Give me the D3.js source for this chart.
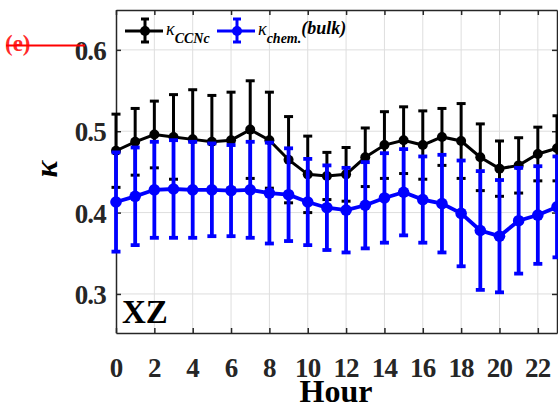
<!DOCTYPE html>
<html lang="en">
<head>
<meta charset="UTF-8">
<title>Kappa diurnal XZ</title>
<script src="https://d3js.org/d3.v7.min.js"></script>
<style>
    body { margin: 0; background: #fff; }
    svg { display: block; }
    text { font-family: "Liberation Serif", "Times New Roman", serif; }
    .tick-label { font-size: 27px; font-weight: bold; fill: #262626; letter-spacing: -0.8px; }
</style>
</head>
<body>
<svg id="chart" width="558" height="403"></svg>
<script>
    const hours = d3.range(0, 24);
    // kappa from CCNc (mean and std)
    const kCCNc    = [0.476, 0.487, 0.496, 0.493, 0.490, 0.487, 0.489, 0.502, 0.489, 0.465, 0.447, 0.445,
                      0.447, 0.468, 0.483, 0.489, 0.483, 0.493, 0.488, 0.468, 0.454, 0.458, 0.472, 0.479];
    const kCCNcErr = [0.045, 0.041, 0.041, 0.052, 0.061, 0.057, 0.059, 0.060, 0.059, 0.053, 0.047, 0.029,
                      0.033, 0.036, 0.041, 0.041, 0.042, 0.035, 0.046, 0.041, 0.034, 0.034, 0.033, 0.040];
    // kappa from bulk chemistry
    const kChem    = [0.413, 0.420, 0.428, 0.429, 0.428, 0.428, 0.427, 0.428, 0.424, 0.422, 0.413, 0.406,
                      0.403, 0.409, 0.418, 0.425, 0.416, 0.411, 0.399, 0.378, 0.371, 0.390, 0.397, 0.407];
    const kChemErr = [0.061, 0.060, 0.059, 0.060, 0.059, 0.057, 0.056, 0.059, 0.062, 0.057, 0.053, 0.052,
                      0.052, 0.053, 0.055, 0.053, 0.053, 0.060, 0.065, 0.073, 0.069, 0.065, 0.060, 0.062];
    const xTicks = [0, 2, 4, 6, 8, 10, 12, 14, 16, 18, 20, 22];
    const yTicks = [0.3, 0.4, 0.5, 0.6];

    const pLeft = 116, pRight = 557, pTop = 10, pBottom = 333;
    const svg = d3.select("#chart");

    const x = d3.scaleLinear().domain([0, 23]).range([pLeft, pRight]);
    const y = d3.scaleLinear().domain([0.252, 0.649]).range([pBottom, pTop]);

    // grid
    const grid = svg.append("g").attr("stroke", "#dedede").attr("stroke-width", 1);
    grid.selectAll(".gx").data(xTicks.filter(d => d > 0)).join("line")
        .attr("x1", d => x(d)).attr("x2", d => x(d)).attr("y1", pTop).attr("y2", pBottom);
    grid.selectAll(".gy").data(yTicks).join("line")
        .attr("x1", pLeft).attr("x2", pRight).attr("y1", d => y(d)).attr("y2", d => y(d));

    // axes (inward ticks, box)
    function styleAxis(g) {
        g.selectAll("line, path").attr("stroke", "#262626").attr("stroke-width", 1.5);
    }
    svg.append("g").attr("transform", `translate(0,${pBottom})`)
        .call(d3.axisBottom(x).tickValues(xTicks).tickSizeInner(-5).tickSizeOuter(0).tickFormat(""))
        .call(styleAxis);
    svg.append("g").attr("transform", `translate(0,${pTop})`)
        .call(d3.axisTop(x).tickValues(xTicks).tickSizeInner(-5).tickSizeOuter(0).tickFormat(""))
        .call(styleAxis);
    svg.append("g").attr("transform", `translate(${pLeft},0)`)
        .call(d3.axisLeft(y).tickValues(yTicks).tickSizeInner(-5).tickSizeOuter(0).tickFormat(""))
        .call(styleAxis);
    svg.append("g").attr("transform", `translate(${pRight},0)`)
        .call(d3.axisRight(y).tickValues(yTicks).tickSizeInner(-5).tickSizeOuter(0).tickFormat(""))
        .call(styleAxis);

    // tick labels
    svg.selectAll(".xl").data(xTicks).join("text").attr("class", "tick-label")
        .attr("x", d => x(d)).attr("y", 377).attr("text-anchor", "middle").text(d => d);
    svg.selectAll(".yl").data(yTicks).join("text").attr("class", "tick-label")
        .attr("x", 106).attr("y", d => y(d) + 10).attr("text-anchor", "end").text(d => d.toFixed(1));

    function drawSeries(mean, err, color, lw, r) {
        const g = svg.append("g");
        const pts = hours.map((h, i) => ({h, m: mean[i], e: err[i]}));
        g.append("path").datum(pts)
            .attr("fill", "none").attr("stroke", color).attr("stroke-width", lw)
            .attr("d", d3.line().x(d => x(d.h)).y(d => y(d.m)));
        const eb = g.selectAll(".eb").data(pts).join("g").attr("stroke", color).attr("stroke-width", lw);
        eb.append("line").attr("x1", d => x(d.h)).attr("x2", d => x(d.h))
            .attr("y1", d => y(d.m - d.e)).attr("y2", d => y(d.m + d.e));
        eb.append("line").attr("x1", d => x(d.h) - 4.5).attr("x2", d => x(d.h) + 4.5)
            .attr("y1", d => y(d.m - d.e)).attr("y2", d => y(d.m - d.e));
        eb.append("line").attr("x1", d => x(d.h) - 4.5).attr("x2", d => x(d.h) + 4.5)
            .attr("y1", d => y(d.m + d.e)).attr("y2", d => y(d.m + d.e));
        g.selectAll("circle").data(pts).join("circle")
            .attr("cx", d => x(d.h)).attr("cy", d => y(d.m)).attr("r", r).attr("fill", color);
    }
    drawSeries(kCCNc, kCCNcErr, "#000000", 3, 5);
    drawSeries(kChem, kChemErr, "#0000ff", 3.8, 5.8);

    // legend
    function legendIcon(cx, color) {
        const g = svg.append("g").attr("stroke", color).attr("stroke-width", 3);
        g.append("line").attr("x1", cx - 20).attr("x2", cx + 18).attr("y1", 31).attr("y2", 31);
        g.append("line").attr("x1", cx).attr("x2", cx).attr("y1", 19).attr("y2", 42);
        g.append("line").attr("x1", cx - 4).attr("x2", cx + 4).attr("y1", 19).attr("y2", 19);
        g.append("line").attr("x1", cx - 4).attr("x2", cx + 4).attr("y1", 42).attr("y2", 42);
        svg.append("circle").attr("cx", cx).attr("cy", 31).attr("r", 5).attr("fill", color);
    }
    legendIcon(145, "#000");
    legendIcon(237, "#0000ff");
    const lt1 = svg.append("text").attr("x", 166).attr("y", 35)
        .attr("font-size", 18).attr("font-style", "italic").attr("fill", "#000");
    lt1.append("tspan").text("κ");
    lt1.append("tspan").attr("dy", 8).attr("font-size", 14).attr("font-weight", "bold").text("CCNc");
    const lt2 = svg.append("text").attr("x", 258).attr("y", 35)
        .attr("font-size", 18).attr("font-style", "italic").attr("fill", "#000");
    lt2.append("tspan").text("κ");
    lt2.append("tspan").attr("dy", 8).attr("font-size", 14).attr("font-weight", "bold").text("chem.");
    lt2.append("tspan").attr("dy", -9).attr("font-size", 18).attr("font-weight", "bold").text("(bulk)");

    // axis labels
    svg.append("text").attr("x", 336).attr("y", 402).attr("text-anchor", "middle")
        .attr("font-size", 32).attr("font-weight", "bold").attr("fill", "#000").text("Hour");
    svg.append("text").attr("transform", "translate(57,169) rotate(-90)").attr("text-anchor", "middle")
        .attr("font-size", 32).attr("font-weight", "bold").attr("font-style", "italic").attr("fill", "#000").text("κ");

    // site label
    svg.append("text").attr("x", 122).attr("y", 323)
        .attr("font-size", 33).attr("font-weight", "bold").attr("fill", "#000").text("XZ");

    // panel label (struck through)
    svg.append("text").attr("x", 5).attr("y", 51)
        .attr("font-size", 23).attr("font-weight", "bold").attr("fill", "#ff2a2a").text("(e)");
    svg.append("line").attr("x1", 6).attr("x2", 85).attr("y1", 45.5).attr("y2", 45.5)
        .attr("stroke", "#ff0000").attr("stroke-width", 2);
</script>
</body>
</html>
